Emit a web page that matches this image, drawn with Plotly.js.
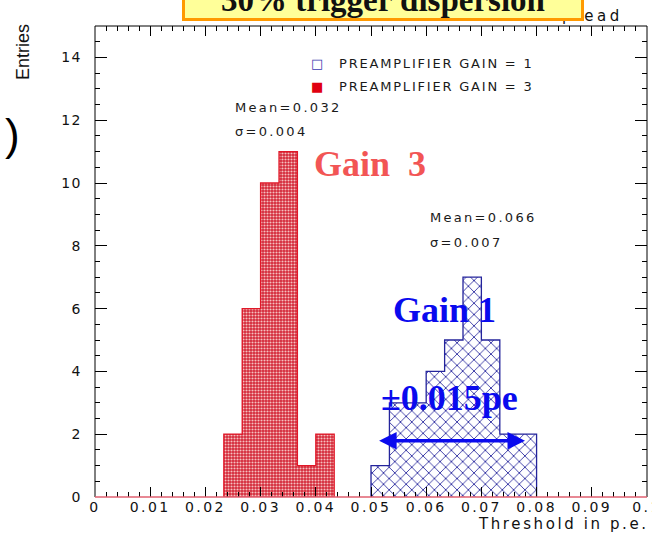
<!DOCTYPE html>
<html>
<head>
<meta charset="utf-8">
<script src="https://cdn.plot.ly/plotly-3.0.1.min.js"></script>
<style>html,body{margin:0;padding:0;background:#fff;}#chart{width:652px;height:538px;}</style>
</head>
<body>
<div id="chart"></div>
<script>
// ---- data ----
const binWidth = 1 / 300;
const gain3Centers = [0.02500, 0.02833, 0.03167, 0.03500, 0.03833, 0.04167];
const gain3Counts  = [2, 6, 10, 11, 1, 2];
const gain1Centers = [0.05167, 0.05500, 0.05833, 0.06167, 0.06500, 0.06833, 0.07167, 0.07500, 0.07833];
const gain1Counts  = [1, 3, 3, 4, 5, 7, 5, 2, 2];
const xTickVals = [0, 0.01, 0.02, 0.03, 0.04, 0.05, 0.06, 0.07, 0.08, 0.09, 0.1];
const xTickText = ['0', '0.01', '0.02', '0.03', '0.04', '0.05', '0.06', '0.07', '0.08', '0.09', '0.1'];
const yTickVals = [0, 2, 4, 6, 8, 10, 12, 14];
const yTickText = ['0', '2', '4', '6', '8', '10', '12', '14'];
const legendLabels = ['PREAMPLIFIER GAIN = 1', 'PREAMPLIFIER GAIN = 3'];
const gain3Stats = ['Mean=0.032', 'σ=0.004'];
const gain1Stats = ['Mean=0.066', 'σ=0.007'];
const spreadArrow = {from: 0.0512, to: 0.0779, level: 1.79};

// ---- geometry helpers (pixels -> paper) ----
const L = 95, R = 5, T = 26, B = 41, PW = 652 - L - R, PH = 538 - T - B;
const px = p => (p - L) / PW;
const py = p => (538 - B - p) / PH;
const sp = (t, s) => '<span style="letter-spacing:' + s + 'px">' + t + '</span>';

function outline(centers, counts) {
  const xs = [centers[0] - binWidth / 2];
  const ys = [0];
  centers.forEach((c, i) => { xs.push(c + binWidth / 2); ys.push(counts[i]); });
  xs.push(centers[centers.length - 1] + binWidth / 2); ys.push(0);
  return {xs, ys};
}
const o3 = outline(gain3Centers, gain3Counts);
const o1 = outline(gain1Centers, gain1Counts);

const RED = '#d42838', BLUE = '#24249c';
const traces = [
  {type: 'bar', x: gain3Centers, y: gain3Counts, width: binWidth, showlegend: false,
   marker: {color: RED, line: {width: 0},
            pattern: {shape: '.', fgcolor: '#f5c0c0', bgcolor: RED, size: 3, solidity: 0.4}}},
  {type: 'bar', x: gain1Centers, y: gain1Counts, width: binWidth, showlegend: false,
   marker: {color: '#ffffff', line: {width: 0},
            pattern: {shape: 'x', fgcolor: BLUE, bgcolor: '#ffffff', size: 8, solidity: 0.2}}},
  {type: 'scatter', mode: 'lines', x: o3.xs, y: o3.ys, line: {shape: 'vh', color: '#e01828', width: 1.3}, showlegend: false},
  {type: 'scatter', mode: 'lines', x: o1.xs, y: o1.ys, line: {shape: 'vh', color: BLUE, width: 1.3}, showlegend: false}
];

const txt = {family: 'DejaVu Sans, Liberation Sans, sans-serif', color: '#1a1a1a'};
const big = {family: 'Liberation Serif, Times New Roman, serif', size: 36, weight: 'bold'};
const annotations = [
  {xref: 'paper', yref: 'paper', x: px(12), y: py(135), text: ')', showarrow: false,
   font: {family: 'Liberation Sans, sans-serif', size: 44, color: '#000'}, xanchor: 'center', yanchor: 'middle'},
  {xref: 'paper', yref: 'paper', x: px(23), y: py(52), text: 'Entries', textangle: -90, showarrow: false,
   font: {family: 'Liberation Sans Narrow, Liberation Sans, sans-serif', size: 18, color: '#111'}, xanchor: 'center', yanchor: 'middle'},
  {xref: 'paper', yref: 'paper', x: px(651), y: py(524), text: sp('Threshold in p.e.', 2.6), showarrow: false,
   font: Object.assign({}, txt, {size: 15, color: '#111'}), xanchor: 'right', yanchor: 'middle'},
  {xref: 'paper', yref: 'paper', x: px(625), y: py(16), text: sp('Threshold spread', 3.5), showarrow: false,
   font: Object.assign({}, txt, {size: 15, color: '#111'}), xanchor: 'right', yanchor: 'middle'},
  {xref: 'paper', yref: 'paper', x: px(383), y: py(21), text: '30% trigger dispersion', showarrow: false,
   font: {family: 'Liberation Serif, Times New Roman, serif', size: 33, weight: 'bold', color: '#111'},
   bgcolor: '#ffff99', bordercolor: '#ff9900', borderwidth: 3, borderpad: 0,
   width: 396, height: 40, valign: 'bottom', xanchor: 'center', yanchor: 'bottom'},
  // legend
  {xref: 'paper', yref: 'paper', x: px(317), y: py(64), text: '□', showarrow: false,
   font: {family: 'DejaVu Sans', size: 13, color: '#3a3ab0'}, xanchor: 'center', yanchor: 'middle'},
  {xref: 'paper', yref: 'paper', x: px(317), y: py(87), text: '■', showarrow: false,
   font: {family: 'DejaVu Sans', size: 13, color: '#e00010'}, xanchor: 'center', yanchor: 'middle'},
  {xref: 'paper', yref: 'paper', x: px(337), y: py(64), text: sp(legendLabels[0], 1.8), showarrow: false,
   font: Object.assign({}, txt, {size: 13}), xanchor: 'left', yanchor: 'middle'},
  {xref: 'paper', yref: 'paper', x: px(337), y: py(87), text: sp(legendLabels[1], 1.8), showarrow: false,
   font: Object.assign({}, txt, {size: 13}), xanchor: 'left', yanchor: 'middle'},
  // stats
  {xref: 'paper', yref: 'paper', x: px(233), y: py(108), text: sp(gain3Stats[0], 2.3), showarrow: false,
   font: Object.assign({}, txt, {size: 13}), xanchor: 'left', yanchor: 'middle'},
  {xref: 'paper', yref: 'paper', x: px(233), y: py(132), text: sp(gain3Stats[1], 2.3), showarrow: false,
   font: Object.assign({}, txt, {size: 13}), xanchor: 'left', yanchor: 'middle'},
  {xref: 'paper', yref: 'paper', x: px(428), y: py(217), text: sp(gain1Stats[0], 2.3), showarrow: false,
   font: Object.assign({}, txt, {size: 13}), xanchor: 'left', yanchor: 'middle'},
  {xref: 'paper', yref: 'paper', x: px(428), y: py(242), text: sp(gain1Stats[1], 2.3), showarrow: false,
   font: Object.assign({}, txt, {size: 13}), xanchor: 'left', yanchor: 'middle'},
  // big labels
  {xref: 'paper', yref: 'paper', x: px(312), y: py(164), text: 'Gain  3', showarrow: false,
   font: Object.assign({}, big, {color: '#f25555'}), xanchor: 'left', yanchor: 'middle'},
  {xref: 'paper', yref: 'paper', x: px(391), y: py(310), text: 'Gain 1', showarrow: false,
   font: Object.assign({}, big, {color: '#0a0aee'}), xanchor: 'left', yanchor: 'middle'},
  {xref: 'paper', yref: 'paper', x: px(379), y: py(398), text: '±0.015pe', showarrow: false,
   font: Object.assign({}, big, {color: '#0a0aee'}), xanchor: 'left', yanchor: 'middle'},
  // double arrow
  {xref: 'x', yref: 'y', axref: 'x', ayref: 'y', x: spreadArrow.to, y: spreadArrow.level,
   ax: spreadArrow.from, ay: spreadArrow.level, text: '', showarrow: true,
   arrowside: 'end+start', arrowhead: 2, arrowsize: 1, arrowwidth: 3.5, arrowcolor: '#0a0aee', standoff: 0, startstandoff: 0}
];

const shapes = [
  {type: 'path', xref: 'paper', yref: 'paper', path: 'M0,0 L0,1 L1,1 L1,0', line: {color: '#000', width: 1}, layer: 'above'},
  {type: 'line', xref: 'paper', yref: 'paper', x0: 0, x1: 1, y0: 0, y1: 0, line: {color: '#e06070', width: 1.5}, layer: 'above'}
];

const layout = {
  width: 652, height: 538,
  margin: {l: L, r: R, t: T, b: B, pad: 0},
  paper_bgcolor: '#ffffff', plot_bgcolor: '#ffffff',
  barmode: 'overlay', bargap: 0,
  showlegend: false,
  xaxis: {range: [0, 0.1], tickmode: 'array', tickvals: xTickVals, ticktext: xTickText.map(t => sp(t, 2.4)),
          ticks: 'inside', ticklen: 10, tickwidth: 1, tickcolor: '#000', mirror: 'ticks', showline: false,
          showgrid: false, zeroline: false, ticklabeloverflow: 'allow', ticklabelstandoff: 0,
          tickfont: {family: 'DejaVu Sans', size: 14, color: '#111'},
          minor: {dtick: 0.002, tick0: 0, ticks: 'inside', ticklen: 5, tickcolor: '#000', showgrid: false}},
  yaxis: {range: [0, 15], tickmode: 'array', tickvals: yTickVals, ticktext: yTickText.map(t => sp(t, 1.5)),
          ticks: 'inside', ticklen: 12, tickwidth: 1, tickcolor: '#000', mirror: 'ticks', showline: false,
          showgrid: false, zeroline: false, ticklabelstandoff: 12,
          tickfont: {family: 'DejaVu Sans', size: 14, color: '#111'},
          minor: {dtick: 0.5, tick0: 0, ticks: 'inside', ticklen: 5, tickcolor: '#000', showgrid: false}},
  annotations: annotations,
  shapes: shapes
};

Plotly.newPlot('chart', traces, layout, {staticPlot: true, displayModeBar: false});
</script>
</body>
</html>
